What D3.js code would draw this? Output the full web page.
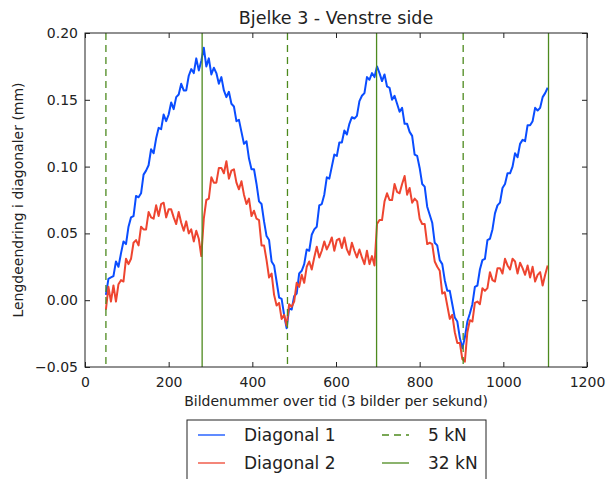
<!DOCTYPE html>
<html>
<head>
<meta charset="utf-8">
<script src="https://cdn.jsdelivr.net/npm/d3@7"></script>
<style>
  body { margin: 0; background: #fff; }
  svg { font-family: "DejaVu Sans", sans-serif; }
</style>
</head>
<body>
<svg id="chart" width="606" height="479"></svg>
<script>
// frame numbers: first frame and spacing between samples
var startFrame = 50,
    frameStep = 6;

var diagonal1 = [
  .004,.016,.017,.018,.029,.025,.035,.044,.042,.055,.062,.063,.078,.077,.080,.094,.097,.101,.113,.110,
  .121,.129,.128,.139,.134,.139,.148,.143,.152,.154,.162,.157,.157,.168,.173,.170,.181,.172,.179,.189,
  .175,.181,.169,.174,.170,.162,.167,.157,.152,.156,.147,.145,.134,.135,.126,.117,.119,.106,.098,.098,
  .087,.074,.072,.059,.048,.045,.029,.026,.014,.002,.001,-.011,-.021,-.006,-.007,.003,.005,.020,.022,.027,
  .038,.037,.049,.053,.055,.071,.072,.079,.092,.091,.100,.109,.108,.118,.118,.127,.124,.132,.137,.136,
  .138,.149,.153,.155,.167,.165,.170,.167,.175,.170,.164,.169,.160,.159,.150,.153,.147,.141,.144,.132,
  .132,.126,.123,.109,.108,.099,.087,.085,.070,.064,.058,.043,.041,.030,.027,.015,.007,.007,-.003,-.013,
  -.016,-.028,-.036,-.028,-.016,-.010,-.003,.010,.011,.023,.030,.031,.045,.046,.053,.065,.071,.073,.084,.087,
  .095,.095,.100,.110,.107,.117,.120,.119,.131,.131,.134,.144,.142,.144,.152,.155,.159
];

var diagonal2 = [
  -.007,.010,-.001,.011,-.001,.012,.015,.014,.031,.027,.031,.043,.045,.041,.055,.053,.053,.066,.062,.061,
  .071,.063,.072,.073,.062,.068,.068,.062,.057,.066,.058,.052,.059,.050,.053,.044,.052,.046,.033,.061,
  .075,.076,.092,.088,.088,.099,.099,.095,.104,.091,.097,.098,.088,.083,.089,.079,.072,.076,.063,.067,
  .061,.060,.041,.041,.030,.017,.020,.004,-.004,-.002,-.014,-.011,-.019,-.003,-.005,-.001,.013,.010,.019,.013,
  .025,.029,.023,.032,.040,.032,.037,.044,.038,.042,.047,.037,.045,.046,.039,.047,.038,.034,.043,.037,
  .032,.038,.032,.027,.037,.027,.033,.026,.057,.060,.060,.074,.080,.075,.075,.087,.081,.080,.087,.093,
  .079,.084,.073,.076,.074,.061,.057,.057,.042,.043,.042,.029,.025,.022,.005,.006,-.004,-.014,-.011,-.024,
  -.032,-.032,-.044,-.046,-.024,-.015,-.016,-.002,-.001,-.003,.009,.007,.009,.021,.015,.014,.024,.024,.020,.031,
  .026,.023,.031,.029,.020,.028,.024,.019,.026,.017,.025,.014,.019,.021,.011,.019,.026
];

var loadFrames5 = [50, 484, 904];
var loadFrames32 = [280, 697, 1108];

var xTicks = [0, 200, 400, 600, 800, 1000, 1200];
var yTicks = [-0.05, 0.00, 0.05, 0.10, 0.15, 0.20];

var blue = "#0a4dff",
    red = "#ee4530",
    green = "#4d8a1e",
    ink = "#222";

var svg = d3.select("#chart"),
    margin = {left: 85, right: 19, top: 33, bottom: 112},
    width = 606 - margin.left - margin.right,
    height = 479 - margin.top - margin.bottom;

var x = d3.scaleLinear().domain([0, 1200]).range([0, width]);
var y = d3.scaleLinear().domain([-0.05, 0.20]).range([height, 0]);

var g = svg.append("g")
    .attr("transform", "translate(" + margin.left + "," + margin.top + ")");

g.append("clipPath").attr("id", "plot-clip")
  .append("rect").attr("width", width).attr("height", height);

var frameOf = function (i) { return startFrame + i * frameStep; };

var line = d3.line()
    .x(function (d, i) { return x(frameOf(i)); })
    .y(function (d) { return y(d); });

var plot = g.append("g").attr("clip-path", "url(#plot-clip)");

plot.append("path")
    .datum(diagonal1)
    .attr("d", line)
    .attr("fill", "none")
    .attr("stroke", blue)
    .attr("stroke-width", 2)
    .attr("stroke-linejoin", "round");

plot.append("path")
    .datum(diagonal2)
    .attr("d", line)
    .attr("fill", "none")
    .attr("stroke", red)
    .attr("stroke-width", 2)
    .attr("stroke-linejoin", "round");

plot.selectAll("line.kn5")
    .data(loadFrames5)
  .enter().append("line")
    .attr("class", "kn5")
    .attr("x1", function (d) { return x(d); })
    .attr("x2", function (d) { return x(d); })
    .attr("y1", 0)
    .attr("y2", height)
    .attr("stroke", green)
    .attr("stroke-width", 1.3)
    .attr("stroke-dasharray", "7,5");

plot.selectAll("line.kn32")
    .data(loadFrames32)
  .enter().append("line")
    .attr("class", "kn32")
    .attr("x1", function (d) { return x(d); })
    .attr("x2", function (d) { return x(d); })
    .attr("y1", 0)
    .attr("y2", height)
    .attr("stroke", green)
    .attr("stroke-width", 1.3);

// axes: ticks point inward on every side, like matplotlib classic
var tickLen = 5;

var styleAxis = function (sel) {
  sel.select(".domain").remove();
  sel.selectAll(".tick line").attr("stroke", ink);
  sel.selectAll(".tick text")
      .attr("fill", ink)
      .style("font-size", "14px")
      .style("font-family", "DejaVu Sans");
};

g.append("g")
    .attr("transform", "translate(0," + height + ")")
    .call(d3.axisBottom(x).tickValues(xTicks).tickSize(-tickLen).tickPadding(10)
      .tickFormat(d3.format("d")))
    .call(styleAxis);

g.append("g")
    .call(d3.axisTop(x).tickValues(xTicks).tickSize(-tickLen).tickFormat(""))
    .call(styleAxis);

g.append("g")
    .call(d3.axisLeft(y).tickValues(yTicks).tickSize(-tickLen).tickPadding(7)
      .tickFormat(function (d) { return d3.format(".2f")(d).replace("-", "\u2212"); }))
    .call(styleAxis);

g.append("g")
    .attr("transform", "translate(" + width + ",0)")
    .call(d3.axisRight(y).tickValues(yTicks).tickSize(-tickLen).tickFormat(""))
    .call(styleAxis);

g.append("rect")
    .attr("width", width)
    .attr("height", height)
    .attr("fill", "none")
    .attr("stroke", ink)
    .attr("stroke-width", 1);

// texts
g.append("text")
    .attr("x", width / 2)
    .attr("y", -9)
    .attr("text-anchor", "middle")
    .attr("fill", ink)
    .style("font-size", "17.5px")
    .text("Bjelke 3 - Venstre side");

g.append("text")
    .attr("x", width / 2)
    .attr("y", height + 39)
    .attr("text-anchor", "middle")
    .attr("fill", ink)
    .style("font-size", "14px")
    .text("Bildenummer over tid (3 bilder per sekund)");

g.append("text")
    .attr("transform", "translate(" + (-62) + "," + (height / 2) + ") rotate(-90)")
    .attr("text-anchor", "middle")
    .attr("fill", ink)
    .style("font-size", "14px")
    .text("Lengdeendring i diagonaler (mm)");

// legend
var legendItems = [
  {label: "Diagonal 1", color: blue, dash: null, col: 0, row: 0},
  {label: "Diagonal 2", color: red, dash: null, col: 0, row: 1},
  {label: "5 kN", color: green, dash: "7,5", col: 1, row: 0},
  {label: "32 kN", color: green, dash: null, col: 1, row: 1}
];

var legend = svg.append("g").attr("transform", "translate(187,420)");

legend.append("rect")
    .attr("width", 299)
    .attr("height", 80)
    .attr("fill", "#fff")
    .attr("stroke", ink)
    .attr("stroke-width", 1);

var item = legend.selectAll("g.item")
    .data(legendItems)
  .enter().append("g")
    .attr("class", "item")
    .attr("transform", function (d) {
      return "translate(" + (11 + d.col * 184) + "," + (15 + d.row * 28) + ")";
    });

item.append("line")
    .attr("x1", 0)
    .attr("x2", 27)
    .attr("stroke", function (d) { return d.color; })
    .attr("stroke-width", 1.3)
    .attr("stroke-dasharray", function (d) { return d.dash; });

item.append("text")
    .attr("x", 46)
    .attr("dy", "0.35em")
    .attr("fill", ink)
    .style("font-size", "17px")
    .text(function (d) { return d.label; });
</script>
</body>
</html>
